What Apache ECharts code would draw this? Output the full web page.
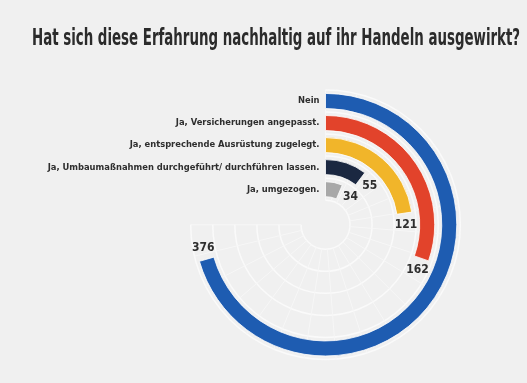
<!DOCTYPE html>
<html>
<head>
<meta charset="utf-8">
<script src="https://cdn.jsdelivr.net/npm/echarts@6/dist/echarts.min.js"></script>
<style>
  html, body { margin: 0; padding: 0; background: #f0f0f0; }
  #chart { width: 527px; height: 383px; }
</style>
</head>
<body>
<div id="chart"></div>
<script>
// Survey: did the experience change how people act?
const titleText = 'Hat sich diese Erfahrung nachhaltig auf ihr Handeln ausgewirkt?';
// inner ring first, outer ring last
const categories = [
  'Ja, umgezogen.',
  'Ja, Umbaumaßnahmen durchgeführt/ durchführen lassen.',
  'Ja, entsprechende Ausrüstung zugelegt.',
  'Ja, Versicherungen angepasst.',
  'Nein'
];
const counts = [34, 55, 121, 162, 376];
const barColors = ['#a8a8a8', '#1b2841', '#f1b52a', '#e2432b', '#1e5cb1'];
const angleMax = 400;
const angleStep = 20;

const narrow = '"Liberation Sans Narrow", "DejaVu Sans Condensed", "Liberation Sans", sans-serif';

const chart = echarts.init(document.getElementById('chart'), null, { renderer: 'canvas' });

chart.setOption({
  backgroundColor: '#f0f0f0',
  animation: false,
  graphic: [{
    type: 'text',
    left: 32,
    top: 28,
    scaleX: 0.646,
    style: {
      text: titleText,
      fill: '#2b2b2b',
      font: 'bold 23px ' + narrow
    }
  }],
  polar: {
    center: [325.5, 224.7],
    radius: [24.5, 134.8]
  },
  angleAxis: {
    type: 'value',
    min: 0,
    max: angleMax,
    interval: angleStep,
    startAngle: 90,
    endAngle: -180,
    clockwise: true,
    axisLine: { show: false },
    axisTick: { show: false },
    axisLabel: { show: false },
    splitLine: { show: true, lineStyle: { color: '#f7f7f7', width: 1 } }
  },
  radiusAxis: {
    type: 'category',
    data: categories,
    axisLine: { show: false },
    axisTick: { show: false },
    axisLabel: {
      interval: 0,
      hideOverlap: false,
      margin: 6,
      color: '#2e2e2e',
      fontFamily: narrow,
      fontWeight: 'bold',
      fontSize: 9.3
    },
    splitLine: { show: true, lineStyle: { color: '#fafafa', width: 1.5 } }
  },
  series: [{
    type: 'bar',
    coordinateSystem: 'polar',
    barWidth: 15,
    data: counts.map((v, i) => ({ value: v, itemStyle: { color: barColors[i] } })),
    itemStyle: { borderColor: '#ffffff', borderWidth: 0.8 },
    label: {
      show: true,
      position: 'end',
      rotate: 0,
      align: 'center',
      verticalAlign: 'middle',
      distance: 12,
      color: '#2e2e2e',
      fontFamily: narrow,
      fontWeight: 'bold',
      fontSize: 12
    }
  }]
});
</script>
</body>
</html>
